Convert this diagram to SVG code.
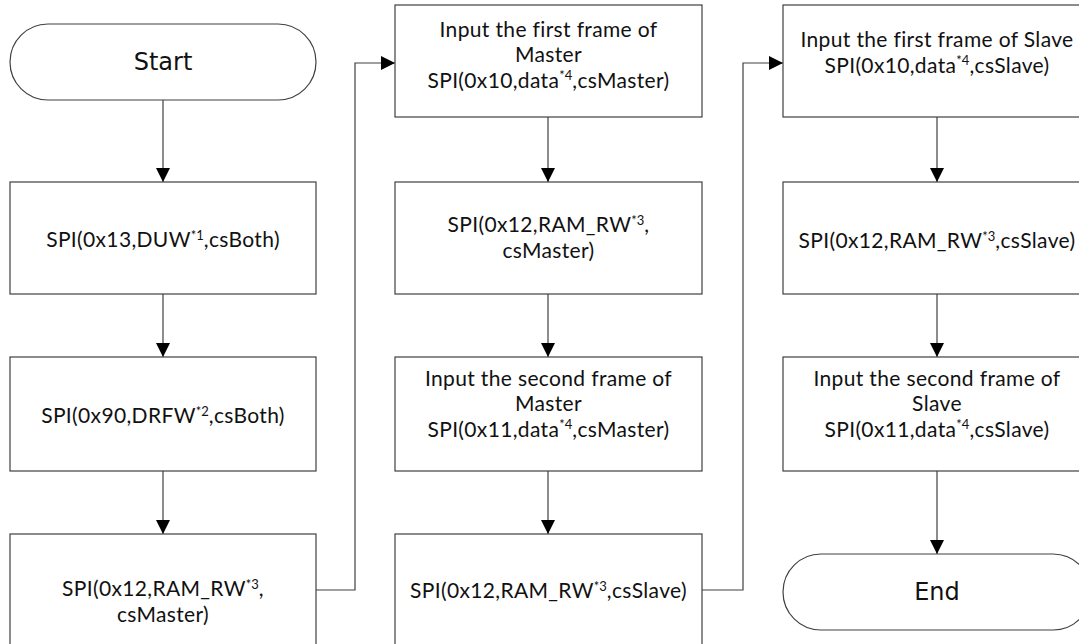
<svg xmlns="http://www.w3.org/2000/svg" width="1079" height="644" viewBox="0 0 1079 644">
<style>
.box{fill:#fff;stroke:#404040;stroke-width:1.2}
.t{font-family:Lato,"Open Sans",sans-serif;font-size:21px;letter-spacing:0.35px;fill:#111;text-anchor:middle}
.term{font-family:"DejaVu Sans",Verdana,sans-serif;font-size:24px;fill:#111;text-anchor:middle}
.sup{font-size:13px;letter-spacing:0}
.c{fill:none;stroke:#404040;stroke-width:1.2}
</style>
<defs>
<marker id="ah" markerWidth="14" markerHeight="14" refX="14" refY="7" orient="auto" markerUnits="userSpaceOnUse">
<path d="M0,0 L14,7 L0,14 Z" fill="#000"/>
</marker>
</defs>
<rect width="1079" height="644" fill="#fff"/>
<g id="connectors">
<path class="c" d="M163,100 V182" marker-end="url(#ah)"/>
<path class="c" d="M163,294 V357" marker-end="url(#ah)"/>
<path class="c" d="M163,471 V534" marker-end="url(#ah)"/>
<path class="c" d="M316,590 H355 V63 H395" marker-end="url(#ah)"/>
<path class="c" d="M548,117 V182" marker-end="url(#ah)"/>
<path class="c" d="M548,294 V357" marker-end="url(#ah)"/>
<path class="c" d="M548,471 V534" marker-end="url(#ah)"/>
<path class="c" d="M702,590 H743 V63 H783" marker-end="url(#ah)"/>
<path class="c" d="M937,117 V182" marker-end="url(#ah)"/>
<path class="c" d="M937,294 V357" marker-end="url(#ah)"/>
<path class="c" d="M937,471 V554" marker-end="url(#ah)"/>
</g>
<g id="start">
<rect class="box" x="10" y="24" width="306" height="76" rx="38" ry="38"/>
<text class="term" x="163" y="70">Start</text>
</g>
<g id="duw">
<rect class="box" x="10" y="182" width="306" height="112"/>
<text class="t" x="163" y="247">SPI(0x13,DUW<tspan class="sup" dy="-7.5">*1</tspan><tspan dy="7.5">,csBoth)</tspan></text>
</g>
<g id="drfw">
<rect class="box" x="10" y="357" width="306" height="114"/>
<text class="t" x="163" y="423">SPI(0x90,DRFW<tspan class="sup" dy="-7.5">*2</tspan><tspan dy="7.5">,csBoth)</tspan></text>
</g>
<g id="ramrw-master1">
<rect class="box" x="10" y="534" width="306" height="112"/>
<text class="t" x="163" y="596">SPI(0x12,RAM_RW<tspan class="sup" dy="-7.5">*3</tspan><tspan dy="7.5">,</tspan><tspan x="163" dy="25.5">csMaster)</tspan></text>
</g>
<g id="first-master">
<rect class="box" x="395" y="5" width="307" height="112"/>
<text class="t" x="548.5" y="36.5">Input the first frame of<tspan x="548.5" dy="25.5">Master</tspan><tspan x="548.5" dy="25.5">SPI(0x10,data</tspan><tspan class="sup" dy="-7.5">*4</tspan><tspan dy="7.5">,csMaster)</tspan></text>
</g>
<g id="ramrw-master2">
<rect class="box" x="395" y="182" width="307" height="112"/>
<text class="t" x="548.5" y="232">SPI(0x12,RAM_RW<tspan class="sup" dy="-7.5">*3</tspan><tspan dy="7.5">,</tspan><tspan x="548.5" dy="25.5">csMaster)</tspan></text>
</g>
<g id="second-master">
<rect class="box" x="395" y="357" width="307" height="114"/>
<text class="t" x="548.5" y="385.5">Input the second frame of<tspan x="548.5" dy="25.5">Master</tspan><tspan x="548.5" dy="25.5">SPI(0x11,data</tspan><tspan class="sup" dy="-7.5">*4</tspan><tspan dy="7.5">,csMaster)</tspan></text>
</g>
<g id="ramrw-slave1">
<rect class="box" x="395" y="534" width="307" height="112"/>
<text class="t" x="548.5" y="598">SPI(0x12,RAM_RW<tspan class="sup" dy="-7.5">*3</tspan><tspan dy="7.5">,csSlave)</tspan></text>
</g>
<g id="first-slave">
<rect class="box" x="783" y="5" width="308" height="112"/>
<text class="t" x="937" y="47">Input the first frame of Slave<tspan x="937" dy="25.5">SPI(0x10,data</tspan><tspan class="sup" dy="-7.5">*4</tspan><tspan dy="7.5">,csSlave)</tspan></text>
</g>
<g id="ramrw-slave2">
<rect class="box" x="783" y="182" width="308" height="112"/>
<text class="t" x="937" y="248">SPI(0x12,RAM_RW<tspan class="sup" dy="-7.5">*3</tspan><tspan dy="7.5">,csSlave)</tspan></text>
</g>
<g id="second-slave">
<rect class="box" x="783" y="357" width="308" height="114"/>
<text class="t" x="937" y="385.5">Input the second frame of<tspan x="937" dy="25.5">Slave</tspan><tspan x="937" dy="25.5">SPI(0x11,data</tspan><tspan class="sup" dy="-7.5">*4</tspan><tspan dy="7.5">,csSlave)</tspan></text>
</g>
<g id="end">
<rect class="box" x="783" y="554" width="308" height="76" rx="38" ry="38"/>
<text class="term" x="937" y="600">End</text>
</g>
</svg>
